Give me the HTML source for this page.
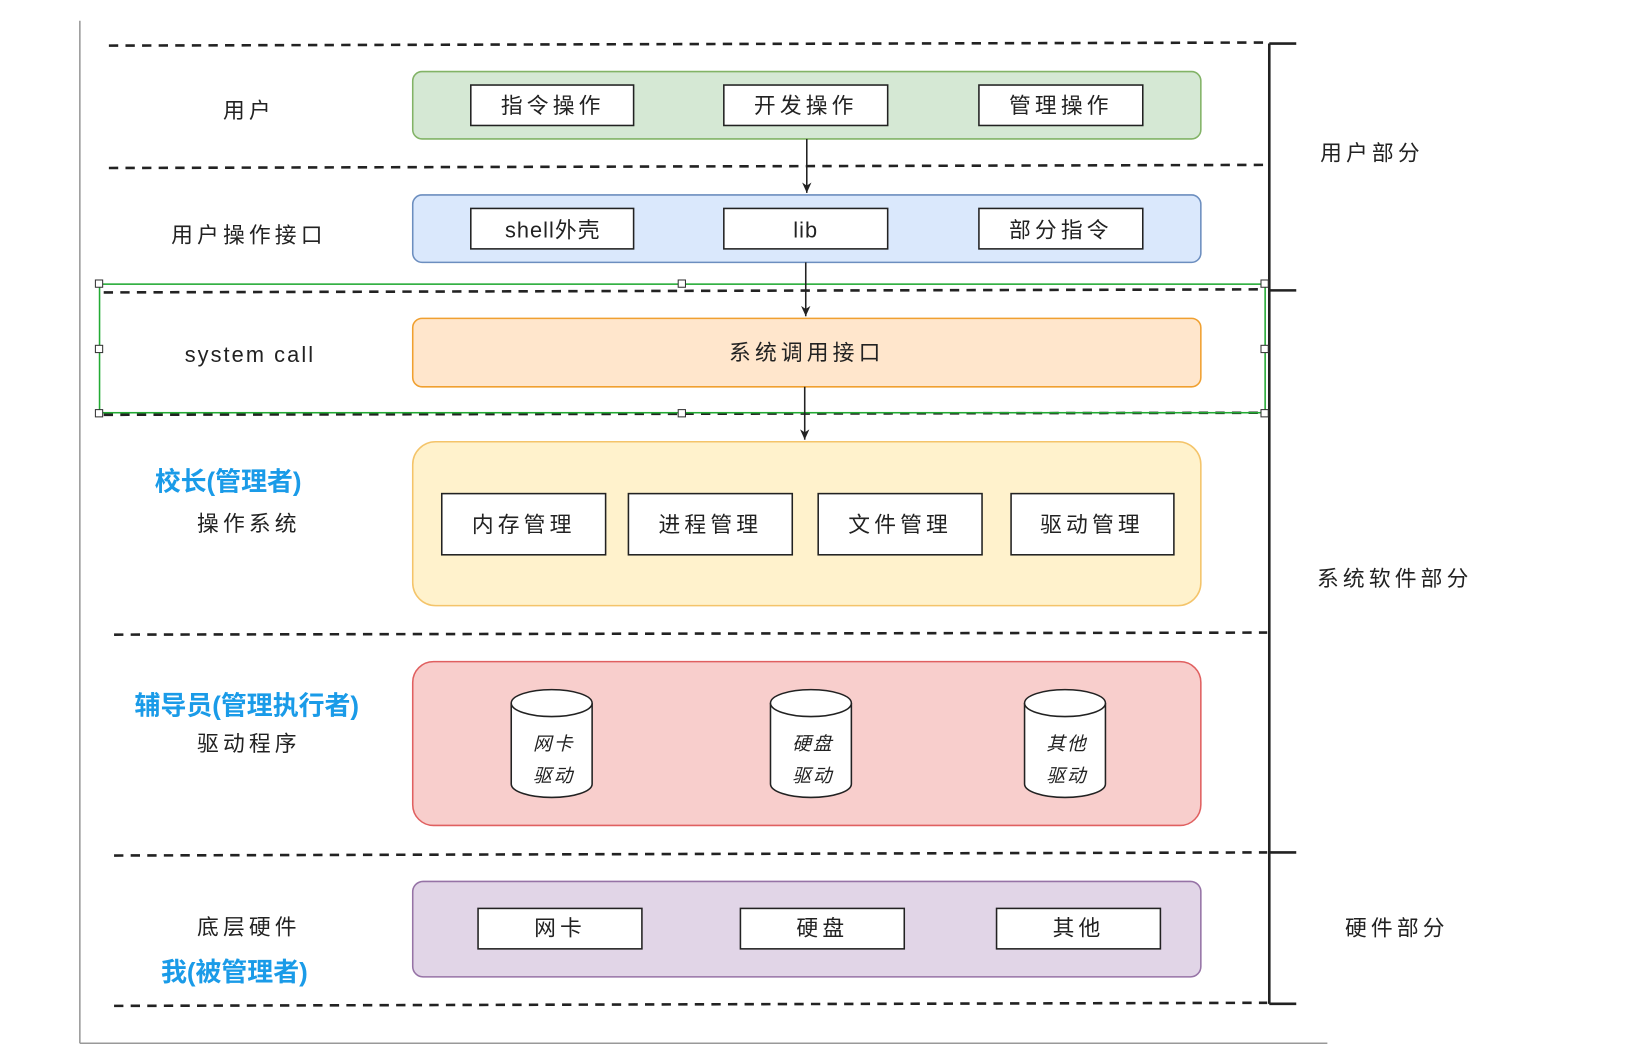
<!DOCTYPE html>
<html><head><meta charset="utf-8"><style>
html,body{margin:0;padding:0;background:#fff;width:1627px;height:1056px;overflow:hidden}
#w{position:absolute;left:0;top:0;width:1550px;height:1018px;transform:scale(1.037);transform-origin:0 0}
svg text{font-family:"Liberation Sans","Noto Sans CJK SC",sans-serif}
</style></head><body><div id="w">
<svg width="1550" height="1018" viewBox="0 0 1550 1018" xmlns="http://www.w3.org/2000/svg">
<defs><marker id="a" markerWidth="12" markerHeight="12" refX="10" refY="5" orient="auto" markerUnits="userSpaceOnUse"><path d="M0,0.5 L10,5 L0,9.5 L3,5 Z" fill="#222"/></marker></defs>
<g stroke="#999" stroke-width="1.5"><line x1="77" y1="20" x2="77" y2="1006"/><line x1="77" y1="1006" x2="1280" y2="1006"/></g>
<g stroke="#222" stroke-width="2.5" stroke-dasharray="9,7">
<line x1="105" y1="44" x2="1220" y2="41"/><line x1="105" y1="162" x2="1220" y2="159"/>
<line x1="100" y1="282" x2="1220" y2="279"/><line x1="100" y1="400" x2="1220" y2="398"/>
<line x1="110" y1="612" x2="1222" y2="610"/><line x1="110" y1="825" x2="1222" y2="822"/>
<line x1="110" y1="970" x2="1222" y2="967"/></g>
<g stroke="#222" stroke-width="2.5"><line x1="1224" y1="42" x2="1224" y2="968"/>
<line x1="1224" y1="42" x2="1250" y2="42"/><line x1="1224" y1="280" x2="1250" y2="280"/>
<line x1="1224" y1="822" x2="1250" y2="822"/><line x1="1224" y1="968" x2="1250" y2="968"/></g>
<rect x="96" y="274" width="1124" height="124" fill="none" stroke="#22aa33" stroke-width="1.5"/>
<g fill="#fff" stroke="#333" stroke-width="1"><rect x="92" y="270" width="7" height="7"/><rect x="654" y="270" width="7" height="7"/><rect x="1216" y="270" width="7" height="7"/><rect x="92" y="333" width="7" height="7"/><rect x="1216" y="333" width="7" height="7"/><rect x="92" y="395" width="7" height="7"/><rect x="654" y="395" width="7" height="7"/><rect x="1216" y="395" width="7" height="7"/></g>
<rect x="398" y="69" width="760" height="65" rx="9" fill="#d5e8d4" stroke="#82b366" stroke-width="1.5"/>
<rect x="398" y="188" width="760" height="65" rx="9" fill="#dae8fc" stroke="#6c8ebf" stroke-width="1.5"/>
<rect x="398" y="307" width="760" height="66" rx="9" fill="#ffe6cc" stroke="#f0a030" stroke-width="1.5"/>
<rect x="398" y="426" width="760" height="158" rx="22" fill="#fff2cc" stroke="#f4c46a" stroke-width="1.5"/>
<rect x="398" y="638" width="760" height="158" rx="20" fill="#f8cecc" stroke="#e06060" stroke-width="1.5"/>
<rect x="398" y="850" width="760" height="92" rx="10" fill="#e1d5e7" stroke="#9673a6" stroke-width="1.5"/>
<g fill="#fff" stroke="#222" stroke-width="1.5">
<rect x="454" y="82" width="157" height="39"/><rect x="698" y="82" width="158" height="39"/><rect x="944" y="82" width="158" height="39"/>
<rect x="454" y="201" width="157" height="39"/><rect x="698" y="201" width="158" height="39"/><rect x="944" y="201" width="158" height="39"/>
<rect x="426" y="476" width="158" height="59"/><rect x="606" y="476" width="158" height="59"/><rect x="789" y="476" width="158" height="59"/><rect x="975" y="476" width="157" height="59"/>
<rect x="461" y="876" width="158" height="39"/><rect x="714" y="876" width="158" height="39"/><rect x="961" y="876" width="158" height="39"/>
</g>
<g fill="#fff" stroke="#222" stroke-width="1.5">
<path d="M493,678 v78 a39,13 0 0 0 78,0 v-78"/><ellipse cx="532" cy="678" rx="39" ry="13"/>
<path d="M743,678 v78 a39,13 0 0 0 78,0 v-78"/><ellipse cx="782" cy="678" rx="39" ry="13"/>
<path d="M988,678 v78 a39,13 0 0 0 78,0 v-78"/><ellipse cx="1027" cy="678" rx="39" ry="13"/>
</g>
<g stroke="#222" stroke-width="1.5" marker-end="url(#a)"><line x1="778" y1="134" x2="778" y2="186"/><line x1="777" y1="253" x2="777" y2="305"/><line x1="776" y1="373" x2="776" y2="424"/></g>
<g fill="#222" font-size="21" text-anchor="middle" letter-spacing="4">
<text x="533" y="109">指令操作</text><text x="777" y="109">开发操作</text><text x="1023" y="109">管理操作</text>
<text x="533" y="229" letter-spacing="1">shell外壳</text><text x="777" y="229" letter-spacing="1">lib</text><text x="1023" y="229">部分指令</text>
<text x="778" y="347">系统调用接口</text>
<text x="505" y="513">内存管理</text><text x="685" y="513">进程管理</text><text x="868" y="513">文件管理</text><text x="1053" y="513">驱动管理</text>
<text x="540" y="902">网卡</text><text x="793" y="902">硬盘</text><text x="1040" y="902">其他</text>
<g font-size="18" font-style="italic" letter-spacing="2"><text x="534" y="723">网卡</text><text x="534" y="754">驱动</text><text x="784" y="723">硬盘</text><text x="784" y="754">驱动</text><text x="1029" y="723">其他</text><text x="1029" y="754">驱动</text></g>
<text x="240" y="114">用户</text><text x="240" y="234">用户操作接口</text><text x="241" y="349" letter-spacing="2">system call</text>
<text x="240" y="512">操作系统</text><text x="240" y="724">驱动程序</text><text x="240" y="901">底层硬件</text>
<text x="1323" y="155">用户部分</text><text x="1345" y="565">系统软件部分</text><text x="1347" y="902">硬件部分</text>
</g>
<g fill="#1a9be8" font-size="25" font-weight="bold" text-anchor="middle">
<text x="220" y="473">校长(管理者)</text><text x="238" y="689">辅导员(管理执行者)</text><text x="226" y="946">我(被管理者)</text></g>
</svg></div></body></html>
